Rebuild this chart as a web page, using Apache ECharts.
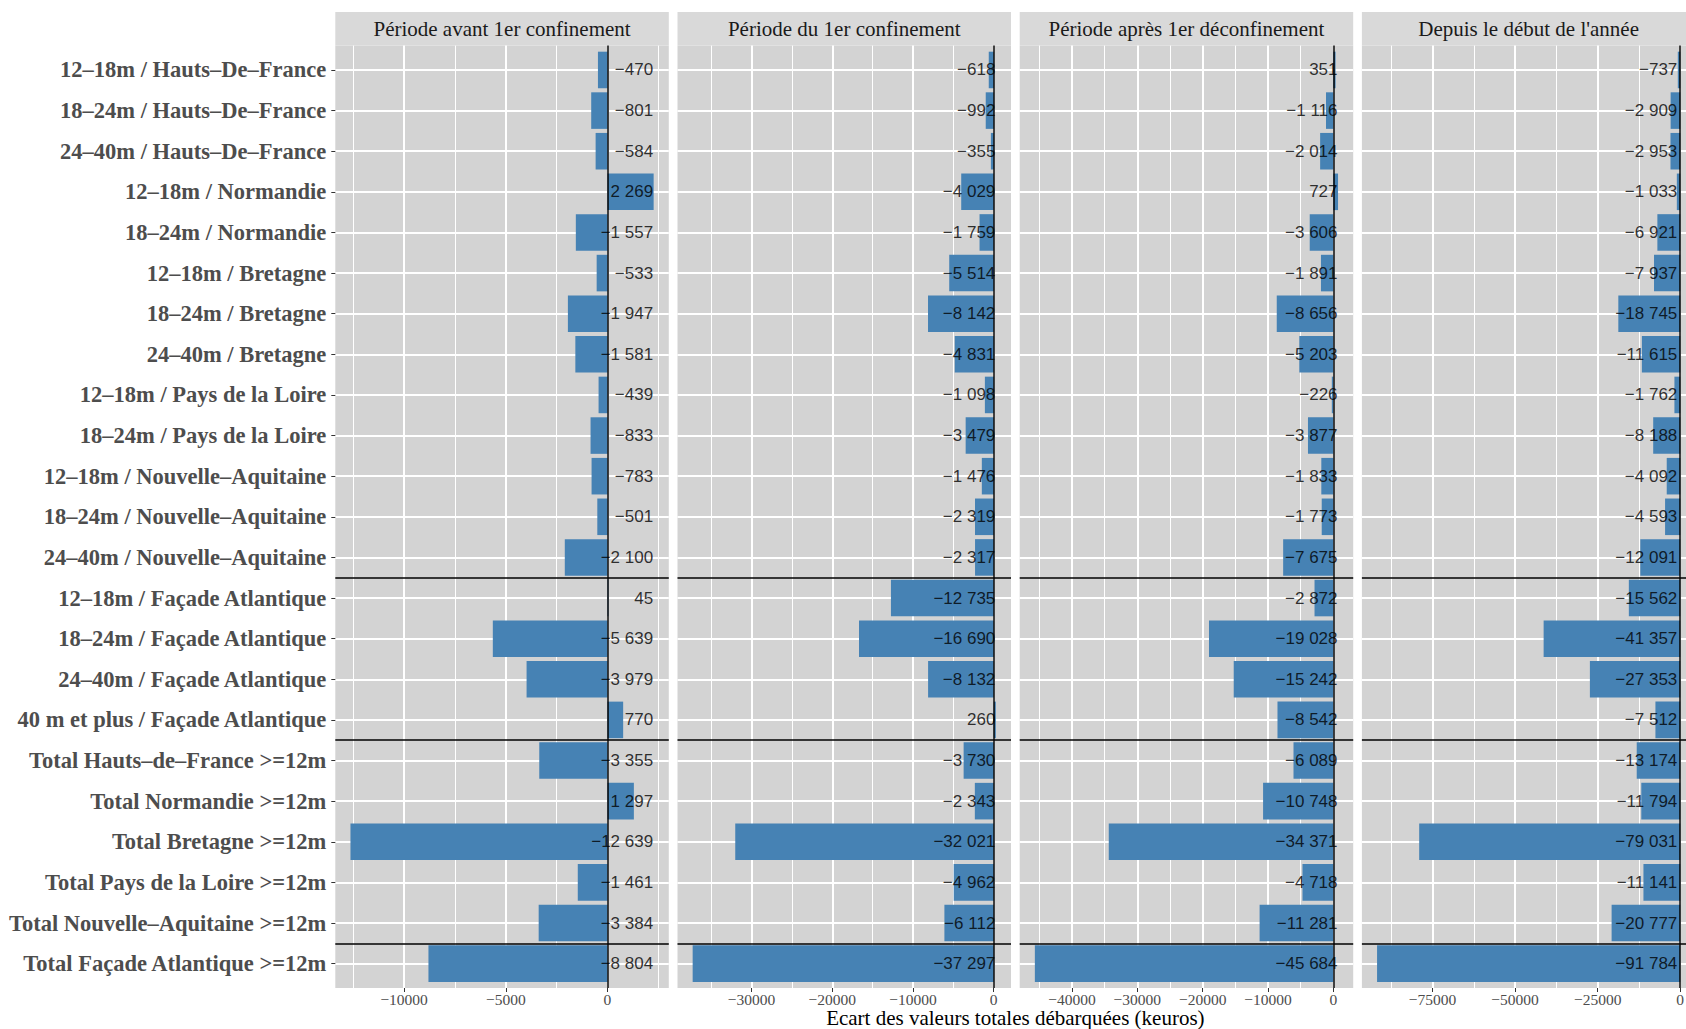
<!DOCTYPE html>
<html><head><meta charset="utf-8">
<script src="https://cdn.jsdelivr.net/npm/echarts@6/dist/echarts.min.js"></script>
<style>html,body{margin:0;padding:0;background:#fff;}#c{width:1686px;height:1029px;}</style>
</head><body><div id="c"></div>
<script>
// ---------- DATA ----------
const categories = [
  '12–18m / Hauts–De–France',
  '18–24m / Hauts–De–France',
  '24–40m / Hauts–De–France',
  '12–18m / Normandie',
  '18–24m / Normandie',
  '12–18m / Bretagne',
  '18–24m / Bretagne',
  '24–40m / Bretagne',
  '12–18m / Pays de la Loire',
  '18–24m / Pays de la Loire',
  '12–18m / Nouvelle–Aquitaine',
  '18–24m / Nouvelle–Aquitaine',
  '24–40m / Nouvelle–Aquitaine',
  '12–18m / Façade Atlantique',
  '18–24m / Façade Atlantique',
  '24–40m / Façade Atlantique',
  '40 m et plus / Façade Atlantique',
  'Total Hauts–de–France >=12m',
  'Total Normandie >=12m',
  'Total Bretagne >=12m',
  'Total Pays de la Loire >=12m',
  'Total Nouvelle–Aquitaine >=12m',
  'Total Façade Atlantique >=12m'
];
const panelTitles = ['Période avant 1er confinement', 'Période du 1er confinement', 'Période après 1er déconfinement', "Depuis le début de l'année"];
const avantConfinement = [-470, -801, -584, 2269, -1557, -533, -1947, -1581, -439, -833, -783, -501, -2100, 45, -5639, -3979, 770, -3355, 1297, -12639, -1461, -3384, -8804];
const pendantConfinement = [-618, -992, -355, -4029, -1759, -5514, -8142, -4831, -1098, -3479, -1476, -2319, -2317, -12735, -16690, -8132, 260, -3730, -2343, -32021, -4962, -6112, -37297];
const apresDeconfinement = [351, -1116, -2014, 727, -3606, -1891, -8656, -5203, -226, -3877, -1833, -1773, -7675, -2872, -19028, -15242, -8542, -6089, -10748, -34371, -4718, -11281, -45684];
const depuisDebutAnnee = [-737, -2909, -2953, -1033, -6921, -7937, -18745, -11615, -1762, -8188, -4092, -4593, -12091, -15562, -41357, -27353, -7512, -13174, -11794, -79031, -11141, -20777, -91784];
const xBreaks = [[-10000, -5000, 0], [-30000, -20000, -10000, 0], [-40000, -30000, -20000, -10000, 0], [-75000, -50000, -25000, 0]];
const xMinorBreaks = [[-12500, -7500, -2500, 2500], [-35000, -25000, -15000, -5000], [-45000, -35000, -25000, -15000, -5000], [-87500, -62500, -37500, -12500]];
const groupSeparators = [12.5, 16.5, 21.5];
const xTitle = 'Ecart des valeurs totales débarquées (keuros)';

// ---------- LAYOUT ----------
const panels = [avantConfinement, pendantConfinement, apresDeconfinement, depuisDebutAnnee];
const PLOT_TOP = 45.6, PLOT_BOTTOM = 988, PANEL_W = 333.5, PANEL_STEP = 342.2, PANEL_LEFT0 = 335.3;
const STRIP_TOP = 12, STRIP_H = 33.6;
const N = categories.length;
const unit = (PLOT_BOTTOM - PLOT_TOP) / (N - 1 + 1.2);
const BAR = '#4682B4';

function fmtNum(v) {
  return (v < 0 ? '\u2212' : '') + String(Math.abs(v)).replace(/\B(?=(\d{3})+(?!\d))/g, ' ');
}
function fmtTick(v) { return (v < 0 ? '\u2212' : '') + Math.abs(v); }

const grid = [], xAxis = [], yAxis = [], series = [], graphic = [];
const idx = categories.map((c, i) => i);

panels.forEach((vals, p) => {
  const left = PANEL_LEFT0 + p * PANEL_STEP;
  const dmin = Math.min(0, ...vals), dmax = Math.max(0, ...vals);
  const ex = (dmax - dmin) * 0.05;
  const xmin = dmin - ex, xmax = dmax + ex;
  const labelX = Math.max(...vals);

  grid.push({ left: left, top: PLOT_TOP, width: PANEL_W, height: PLOT_BOTTOM - PLOT_TOP,
    show: true, backgroundColor: '#D3D3D3', borderWidth: 0, containLabel: false, outerBoundsMode: 'none' });
  grid.push({ left: left, top: PLOT_TOP + 0.1 * unit, width: PANEL_W, height: N * unit, show: false,
    containLabel: false, outerBoundsMode: 'none' });

  const gMain = 2 * p, gBar = 2 * p + 1;
  const xMain = xAxis.length;
  xAxis.push({ gridIndex: gMain, type: 'value', min: xmin, max: xmax, position: 'bottom',
    axisLine: { show: false, onZero: false },
    axisTick: { show: true, length: 4, customValues: xBreaks[p], lineStyle: { color: '#333', width: 1 } },
    axisLabel: { customValues: xBreaks[p], formatter: fmtTick, fontFamily: 'Liberation Serif', fontSize: 15.5,
      lineHeight: 14, color: '#4D4D4D', margin: 4 },
    splitLine: { show: true, lineStyle: { color: '#FFFFFF', width: 2 } } });
  xAxis.push({ gridIndex: gMain, type: 'value', min: xmin, max: xmax, position: 'top',
    axisLine: { show: false, onZero: false },
    axisTick: { show: false, customValues: xMinorBreaks[p] },
    axisLabel: { show: false, customValues: xMinorBreaks[p] },
    splitLine: { show: true, lineStyle: { color: '#FFFFFF', width: 1 } } });
  const xBar = xAxis.length;
  xAxis.push({ gridIndex: gBar, type: 'value', min: xmin, max: xmax, show: false,
    axisLine: { onZero: false }, splitLine: { show: false } });

  const yMain = yAxis.length;
  yAxis.push({ gridIndex: gMain, type: 'value', min: -0.6, max: N - 1 + 0.6, inverse: true,
    axisLine: { show: false, onZero: false },
    axisTick: { show: p === 0, length: 4, customValues: idx, lineStyle: { color: '#333', width: 1 } },
    axisLabel: { show: p === 0, customValues: idx, formatter: v => categories[Math.round(v)] || '',
      fontFamily: 'Liberation Serif', fontWeight: 'bold', fontSize: 22.5, color: '#4D4D4D', margin: 9 },
    splitLine: { show: true, lineStyle: { color: '#FFFFFF', width: 2 } } });
  const yBar = yAxis.length;
  yAxis.push({ gridIndex: gBar, type: 'category', data: categories, inverse: true, show: false,
    axisLine: { onZero: false } });

  series.push({ type: 'bar', xAxisIndex: xBar, yAxisIndex: yBar, data: vals, barWidth: '90%',
    itemStyle: { color: BAR }, z: 2, silent: true });
  series.push({ type: 'line', xAxisIndex: xMain, yAxisIndex: yMain, data: [], z: 3, silent: true,
    markLine: { silent: true, symbol: ['none', 'none'], label: { show: false }, animation: false,
      lineStyle: { color: '#000', width: 1.5, type: 'solid' },
      data: groupSeparators.map(y => ({ yAxis: y })).concat([{ xAxis: 0 }]) } });
  series.push({ type: 'scatter', xAxisIndex: xBar, yAxisIndex: yBar, z: 5, silent: true,
    symbolSize: 1, itemStyle: { color: 'rgba(0,0,0,0)' },
    data: vals.map((v, i) => [labelX, categories[i], v]),
    label: { show: true, position: 'left', distance: 0, formatter: d => fmtNum(d.value[2]),
      fontFamily: 'Liberation Sans', fontSize: 17, color: '#000' } });

  graphic.push({ type: 'rect', shape: { x: left, y: STRIP_TOP, width: PANEL_W, height: STRIP_H },
    style: { fill: '#D9D9D9' }, silent: true });
  graphic.push({ type: 'text', x: left + PANEL_W / 2, y: STRIP_TOP + STRIP_H / 2 + 0.5,
    style: { text: panelTitles[p], fontFamily: 'Liberation Serif', fontSize: 21, fill: '#1A1A1A',
      textAlign: 'center', textVerticalAlign: 'middle' }, silent: true });
});

graphic.push({ type: 'text', x: (PANEL_LEFT0 + PANEL_LEFT0 + 3 * PANEL_STEP + PANEL_W) / 2, y: 1017.5,
  style: { text: xTitle, fontFamily: 'Liberation Serif', fontSize: 21, lineHeight: 19, fill: '#000',
    textAlign: 'center', textVerticalAlign: 'middle' }, silent: true });

const chart = echarts.init(document.getElementById('c'), null, { renderer: 'svg' });
chart.setOption({ animation: false, backgroundColor: '#FFFFFF', grid, xAxis, yAxis, series, graphic });
</script></body></html>
